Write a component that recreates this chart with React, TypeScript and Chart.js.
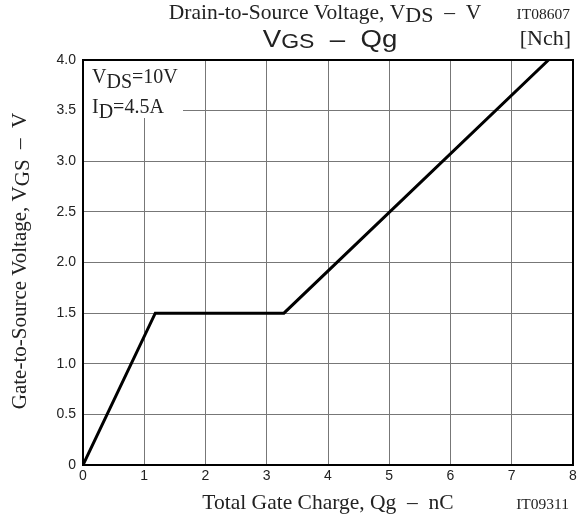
import React, { useEffect, useRef } from "react";
import { Chart, registerables } from "chart.js";

Chart.register(...registerables);

const qg = [0, 1.18, 3.28, 7.6];
const vgs = [0, 1.5, 1.5, 4.0];
const xTickValues = [0, 1, 2, 3, 4, 5, 6, 7, 8];
const yTickLabels = ["0", "0.5", "1.0", "1.5", "2.0", "2.5", "3.0", "3.5", "4.0"];

type Part = { t: string; sub?: boolean };

function drawRich(
  ctx: CanvasRenderingContext2D,
  parts: Part[],
  x: number,
  y: number,
  align: "left" | "center" | "right",
  size: number,
  family: string,
  subScale = 1,
  subShift = 0.2,
  sx = 1
) {
  const fontFor = (p: Part) => `${p.sub ? Math.round(size * subScale) : size}px ${family}`;
  let total = 0;
  const widths = parts.map((p) => {
    ctx.font = fontFor(p);
    const w = ctx.measureText(p.t).width;
    total += w;
    return w;
  });
  ctx.save();
  ctx.translate(x, y);
  ctx.scale(sx, 1);
  let cx = align === "left" ? 0 : align === "center" ? -total / 2 : -total;
  ctx.textAlign = "left";
  ctx.textBaseline = "alphabetic";
  parts.forEach((p, i) => {
    ctx.font = fontFor(p);
    ctx.fillText(p.t, cx, p.sub ? size * subShift : 0);
    cx += widths[i];
  });
  ctx.restore();
}

const SERIF = '"Liberation Serif", "Times New Roman", serif';
const SANS = '"Liberation Sans", Arial, sans-serif';

const decorPlugin = {
  id: "decor",
  beforeDatasetsDraw(chart: any) {
    const { ctx, chartArea } = chart;
    ctx.save();
    ctx.fillStyle = "#fff";
    ctx.fillRect(chartArea.left + 1, chartArea.top + 1, 99, 57);
    ctx.restore();
  },
  afterDraw(chart: any) {
    const { ctx, chartArea } = chart;
    ctx.save();
    ctx.strokeStyle = "#000";
    ctx.lineWidth = 2;
    ctx.strokeRect(chartArea.left, chartArea.top, chartArea.right - chartArea.left, chartArea.bottom - chartArea.top);

    ctx.fillStyle = "#222";
    // inset annotation
    drawRich(ctx, [{ t: "V" }, { t: "DS", sub: true }, { t: "=10V" }], chartArea.left + 9, chartArea.top + 23, "left", 20, SERIF, 1, 0.25);
    drawRich(ctx, [{ t: "I" }, { t: "D", sub: true }, { t: "=4.5A" }], chartArea.left + 9, chartArea.top + 53, "left", 20, SERIF, 1, 0.25);

    // top header
    drawRich(ctx, [{ t: "Drain-to-Source Voltage, V" }, { t: "DS", sub: true }, { t: "  \u2013  V" }], 325, 19, "center", 21.5, SERIF, 1, 0.15);
    ctx.textAlign = "right";
    ctx.textBaseline = "alphabetic";
    ctx.font = `15.5px ${SERIF}`;
    ctx.fillText("IT08607", 570, 19);
    ctx.font = `22px ${SERIF}`;
    ctx.fillText("[Nch]", 571, 45);

    // title
    drawRich(ctx, [{ t: "V" }, { t: "GS", sub: true }, { t: "  \u2013  Qg" }], 330, 47, "center", 24, SANS, 0.83, 0.05, 1.15);

    // x axis title
    drawRich(ctx, [{ t: "Total Gate Charge, Qg  \u2013  nC" }], 328, 509, "center", 21.5, SERIF);
    ctx.textAlign = "right";
    ctx.font = `15.5px ${SERIF}`;
    ctx.fillText("IT09311", 569, 509);

    // y axis title
    ctx.translate(26, 261);
    ctx.rotate(-Math.PI / 2);
    drawRich(ctx, [{ t: "Gate-to-Source Voltage, V" }, { t: "GS", sub: true }, { t: "  \u2013  V" }], 0, 0, "center", 21, SERIF, 1, 0.15);
    ctx.restore();
  },
};

export default function App() {
  const ref = useRef<HTMLCanvasElement | null>(null);
  useEffect(() => {
    document.body.style.margin = "0";
    const canvas = ref.current!;
    const chart = new Chart(canvas, {
      type: "scatter",
      data: {
        datasets: [
          {
            data: qg.map((x, i) => ({ x, y: vgs[i] })),
            showLine: true,
            borderColor: "#000",
            borderWidth: 3,
            pointRadius: 0,
            fill: false,
          },
        ],
      },
      options: {
        animation: false,
        responsive: false,
        maintainAspectRatio: false,
        layout: { padding: { top: 60, right: 10, left: 0, bottom: 0 } },
        plugins: { legend: { display: false }, tooltip: { enabled: false } },
        scales: {
          x: {
            type: "linear",
            min: 0,
            max: 8,
            afterBuildTicks: (s: any) => {
              s.ticks = xTickValues.map((v) => ({ value: v }));
            },
            afterFit: (s: any) => {
              s.height = 53;
            },
            ticks: {
              color: "#222",
              font: { family: SANS, size: 14 },
              padding: 3,
              maxRotation: 0,
              callback: (v: any) => String(v),
            },
            grid: { color: "#777", lineWidth: 1, drawTicks: false },
            border: { display: false },
          },
          y: {
            type: "linear",
            min: 0,
            max: 4,
            afterBuildTicks: (s: any) => {
              s.ticks = yTickLabels.map((_, i) => ({ value: i * 0.5 }));
            },
            afterFit: (s: any) => {
              s.width = 83;
            },
            ticks: {
              color: "#222",
              font: { family: SANS, size: 14 },
              padding: 7,
              callback: (v: any) => yTickLabels[Math.round(Number(v) / 0.5)],
            },
            grid: { color: "#777", lineWidth: 1, drawTicks: false },
            border: { display: false },
          },
        },
      },
      plugins: [decorPlugin],
    } as any);
    return () => chart.destroy();
  }, []);
  return (
    <div style={{ position: "absolute", left: 0, top: 0, width: 583, height: 518 }}>
      <canvas ref={ref} width={583} height={518} style={{ width: 583, height: 518 }} />
    </div>
  );
}
